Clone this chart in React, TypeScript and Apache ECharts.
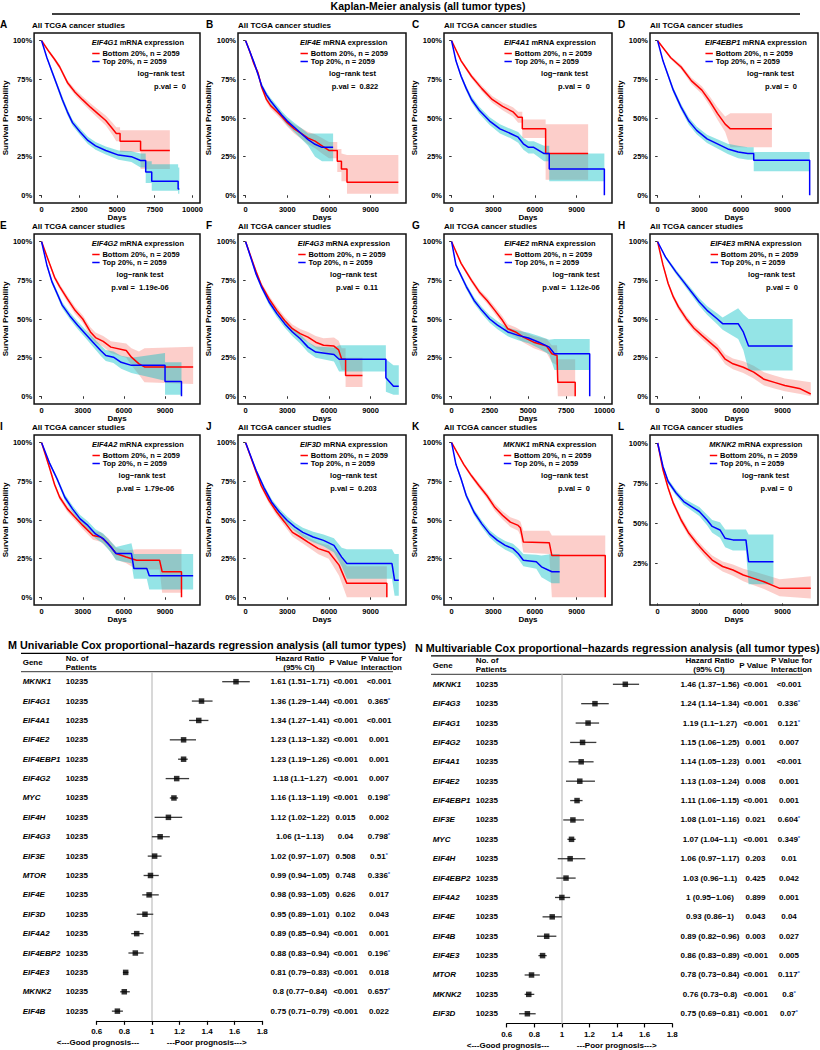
import React, { useEffect, useRef } from "react";
import * as echarts from "echarts";

const FONT = '"Liberation Sans", Arial, Helvetica, sans-serif';

// ---------------- Kaplan-Meier panels ----------------
const panelLetters = ["A", "B", "C", "D", "E", "F", "G", "H", "I", "J", "K", "L"];
const panelGenes = ["EIF4G1", "EIF4E", "EIF4A1", "EIF4EBP1", "EIF4G2", "EIF4G3", "EIF4E2", "EIF4E3", "EIF4A2", "EIF3D", "MKNK1", "MKNK2"];
const panelPvals = ["0", "0.822", "0", "0", "1.19e-06", "0.11", "1.12e-06", "0", "1.79e-06", "0.203", "0", "0"];
const panelMaxDays = [10000, 11000, 11000, 11000, 11000, 11000, 10000, 11000, 11000, 11000, 11000, 11000];
const dayTicks2500 = [0, 2500, 5000, 7500, 10000];
const dayTicks3000 = [0, 3000, 6000, 9000];
const panelDayTicks = [dayTicks2500, dayTicks3000, dayTicks3000, dayTicks3000, dayTicks3000, dayTicks3000, dayTicks2500, dayTicks3000, dayTicks3000, dayTicks3000, dayTicks3000, dayTicks3000];
const survTicks = [0, 0.25, 0.5, 0.75, 1];
const survTicksNoZero = [0.25, 0.5, 0.75, 1];
const legendLabels = ["Bottom 20%, n = 2059", "Top 20%, n = 2059"];

// each point: [days, survival, lower CI, upper CI]
const bottomA = [[0,1,1,1],[518,.925,.915,.935],[858,.88,.868,.892],[1200,.83,.816,.844],[1707,.73,.714,.746],[2216,.667,.648,.686],[2725,.617,.595,.639],[3235,.57,.545,.595],[3744,.527,.499,.555],[4253,.484,.452,.516],[4700,.43,.39,.47],[4950,.40,.35,.44],[5200,.40,.35,.44],[5200,.35,.28,.42],[6560,.35,.28,.42],[6560,.29,.17,.42],[8500,.29,.17,.42]];
const topA = [[0,1,1,1],[350,.89,.88,.90],[690,.80,.785,.815],[1030,.71,.693,.727],[1370,.62,.60,.64],[1707,.54,.52,.56],[2046,.47,.45,.49],[2555,.41,.388,.432],[3065,.355,.331,.379],[3574,.32,.295,.345],[4253,.29,.264,.316],[5100,.26,.23,.29],[5950,.25,.215,.285],[6560,.225,.18,.27],[6900,.225,.18,.27],[6900,.15,.08,.22],[7300,.15,.08,.22],[7300,.09,.03,.20],[9050,.09,.03,.20],[9050,.04,.01,.18],[9130,.04,.01,.18]];
const bottomB = [[0,1,1,1],[300,.93,.92,.94],[600,.85,.838,.862],[900,.79,.776,.804],[1150,.70,.684,.716],[1500,.62,.602,.638],[1800,.58,.56,.60],[2200,.545,.524,.566],[2600,.51,.487,.533],[3000,.47,.445,.495],[3500,.43,.40,.46],[4000,.40,.365,.435],[4500,.37,.33,.41],[5000,.35,.305,.395],[5500,.32,.27,.37],[6000,.29,.24,.345],[6600,.29,.24,.345],[6600,.22,.15,.30],[6900,.22,.15,.30],[6900,.17,.09,.27],[7300,.17,.09,.26],[7300,.085,.01,.26],[11000,.085,.01,.26]];
const topB = [[0,1,1,1],[300,.93,.92,.94],[600,.86,.848,.872],[900,.78,.765,.795],[1150,.71,.694,.726],[1500,.65,.632,.668],[1800,.61,.59,.63],[2200,.565,.543,.587],[2600,.52,.496,.544],[3000,.48,.453,.507],[3500,.44,.41,.47],[4000,.40,.365,.435],[4500,.36,.32,.40],[5000,.33,.25,.40],[5500,.31,.22,.40],[6300,.31,.22,.40]];
const bottomC = [[0,1,1,1],[682,.87,.86,.88],[1430,.77,.755,.785],[2176,.69,.672,.708],[2920,.62,.598,.642],[3670,.575,.55,.60],[4417,.54,.51,.57],[4790,.505,.47,.54],[5090,.505,.47,.54],[5090,.43,.37,.49],[6770,.43,.37,.49],[6770,.27,.10,.46],[9830,.27,.10,.46]];
const topC = [[0,1,1,1],[310,.87,.86,.88],[682,.77,.755,.785],[1056,.69,.673,.707],[1430,.62,.60,.64],[1990,.55,.528,.572],[2740,.48,.455,.505],[3480,.43,.40,.46],[4230,.40,.37,.43],[4790,.376,.34,.41],[5165,.333,.295,.37],[5540,.31,.27,.35],[5910,.31,.27,.35],[6660,.27,.22,.32],[7030,.27,.22,.32],[7030,.17,.09,.27],[11000,.17,.09,.27],[11000,0,.09,.27]];
const bottomD = [[0,1,1,1],[944,.89,.88,.90],[1690,.83,.815,.845],[2440,.74,.72,.76],[3185,.68,.655,.705],[3745,.61,.58,.64],[4305,.53,.49,.57],[4865,.46,.41,.51],[5240,.43,.31,.53],[8230,.43,.31,.53]];
const topD = [[0,1,1,1],[384,.87,.86,.88],[757,.775,.76,.79],[1130,.68,.662,.698],[1690,.57,.55,.59],[2250,.48,.457,.503],[2810,.42,.395,.445],[3560,.365,.338,.392],[4305,.333,.303,.363],[5050,.30,.267,.333],[5800,.28,.24,.32],[6500,.27,.23,.31],[6920,.27,.23,.31],[6920,.226,.155,.28],[10950,.226,.155,.28],[10950,0,.155,.28]];
const bottomE = [[0,1,1,1],[570,.86,.85,.87],[944,.77,.755,.785],[1317,.71,.693,.727],[1880,.63,.61,.65],[2440,.556,.533,.579],[3000,.50,.475,.525],[3560,.416,.385,.447],[3930,.38,.347,.413],[4490,.355,.32,.39],[5050,.318,.28,.356],[6170,.296,.25,.342],[6550,.253,.20,.31],[7100,.21,.14,.29],[7500,.19,.09,.31],[11050,.19,.08,.32]];
const topE = [[0,1,1,1],[380,.85,.84,.86],[757,.74,.725,.755],[1130,.665,.648,.682],[1500,.59,.57,.61],[2060,.52,.498,.542],[2625,.46,.436,.484],[3185,.405,.378,.432],[3745,.35,.32,.38],[4305,.296,.262,.33],[4680,.264,.228,.30],[5240,.253,.215,.29],[5800,.22,.178,.262],[6550,.20,.15,.25],[9000,.20,.10,.28],[9000,.095,.01,.22],[10200,.095,.01,.22],[10200,0,.01,.22]];
const bottomF = [[0,1,1,1],[757,.805,.792,.818],[1130,.72,.704,.736],[1690,.63,.61,.65],[2250,.556,.533,.579],[2810,.49,.465,.515],[3370,.437,.41,.464],[3930,.405,.375,.435],[4490,.383,.35,.416],[5050,.35,.31,.39],[5610,.33,.285,.375],[6360,.325,.27,.38],[6700,.30,.24,.36],[6920,.24,.17,.31],[7200,.24,.17,.31],[7200,.134,.06,.25],[8415,.134,.06,.25]];
const topF = [[0,1,1,1],[757,.79,.777,.803],[1130,.71,.694,.726],[1690,.61,.59,.63],[2250,.535,.512,.558],[2810,.47,.445,.495],[3370,.416,.388,.444],[3930,.372,.342,.402],[4490,.318,.285,.351],[5050,.286,.25,.322],[6360,.27,.225,.315],[6730,.24,.16,.33],[10100,.24,.16,.33],[10100,.12,.03,.24],[10650,.065,.01,.20],[11030,.065,.01,.20]];
const bottomG = [[0,1,1,1],[620,.86,.85,.87],[960,.805,.792,.818],[1300,.75,.735,.765],[1810,.675,.657,.693],[2320,.62,.60,.64],[2830,.556,.533,.579],[3336,.49,.464,.516],[3676,.437,.408,.466],[4185,.416,.385,.447],[4694,.383,.348,.418],[5373,.35,.31,.39],[6220,.325,.28,.37],[6560,.275,.22,.33],[6900,.264,.20,.33],[6950,.09,0,.24],[8090,.09,0,.24],[8090,0,0,.24]];
const topG = [[0,1,1,1],[280,.85,.84,.86],[620,.78,.765,.795],[960,.71,.693,.727],[1470,.62,.60,.64],[1980,.556,.534,.578],[2490,.50,.476,.524],[3000,.46,.434,.486],[3676,.416,.388,.444],[4355,.394,.363,.425],[5034,.377,.343,.411],[5710,.35,.31,.39],[6390,.318,.27,.366],[6730,.275,.17,.37],[9040,.275,.17,.37],[9040,0,.17,.37]];
const bottomH = [[0,1,1,1],[384,.85,.84,.86],[757,.73,.715,.745],[1130,.643,.626,.66],[1500,.578,.559,.597],[2060,.502,.481,.523],[2620,.44,.417,.463],[3185,.394,.369,.419],[3745,.35,.323,.377],[4305,.307,.278,.336],[4865,.24,.208,.272],[5425,.21,.175,.245],[6170,.188,.15,.226],[6920,.156,.115,.197],[7660,.11,.07,.155],[8410,.09,.05,.135],[9160,.07,.033,.115],[10280,.048,.015,.10],[11030,.015,0,.09]];
const topH = [[0,1,1,1],[570,.90,.89,.91],[1317,.805,.79,.82],[1878,.74,.722,.758],[2440,.675,.654,.696],[3000,.61,.585,.635],[3560,.556,.528,.584],[4305,.50,.465,.535],[4680,.47,.43,.51],[5800,.47,.37,.57],[6170,.416,.30,.53],[6550,.325,.167,.50],[9720,.325,.167,.50]];
const bottomI = [[0,1,1,1],[570,.84,.83,.85],[944,.73,.715,.745],[1317,.647,.63,.664],[1880,.572,.552,.592],[2440,.518,.496,.54],[3000,.465,.44,.49],[3745,.40,.372,.428],[4305,.39,.36,.42],[4865,.347,.312,.382],[5425,.283,.245,.321],[6170,.261,.22,.302],[6920,.24,.18,.31],[8600,.24,.18,.31],[8790,.165,.03,.31],[10200,.165,.03,.31],[10200,0,.03,.31]];
const topI = [[0,1,1,1],[570,.87,.86,.88],[1130,.765,.75,.78],[1690,.647,.628,.666],[2250,.572,.55,.594],[2810,.507,.482,.532],[3370,.465,.438,.492],[3930,.41,.38,.44],[4490,.38,.348,.412],[5050,.325,.29,.36],[5425,.283,.24,.326],[6550,.283,.22,.35],[6730,.186,.12,.28],[7670,.186,.12,.28],[7850,.14,.05,.28],[11050,.14,.05,.28]];
const bottomJ = [[0,1,1,1],[757,.81,.797,.823],[1130,.72,.704,.736],[1690,.625,.605,.645],[2250,.55,.527,.573],[2810,.486,.461,.511],[3370,.42,.393,.447],[3930,.39,.36,.42],[4490,.357,.325,.389],[5240,.315,.278,.352],[5985,.293,.25,.336],[6730,.208,.14,.28],[7290,.09,0,.20],[10170,.09,0,.20],[10170,0,0,.20]];
const topJ = [[0,1,1,1],[757,.82,.807,.833],[1317,.71,.693,.727],[1880,.615,.595,.635],[2440,.55,.527,.573],[3000,.497,.472,.522],[3560,.454,.427,.481],[4120,.42,.39,.45],[4865,.39,.356,.424],[5610,.368,.33,.406],[6360,.336,.29,.382],[6920,.26,.20,.32],[7290,.218,.12,.31],[10540,.218,.12,.31],[10730,.11,.01,.28],[11030,.11,.01,.28]];
const bottomK = [[0,1,1,1],[870,.86,.85,.87],[1430,.786,.772,.80],[1990,.72,.703,.737],[2550,.657,.637,.677],[3110,.582,.558,.606],[3670,.53,.503,.557],[4230,.486,.455,.517],[4790,.465,.43,.50],[4950,.45,.40,.49],[5165,.357,.29,.43],[7030,.353,.28,.43],[7220,.27,0,.40],[11065,.27,0,.40],[11065,0,0,.40]];
const topK = [[0,1,1,1],[310,.86,.85,.87],[682,.765,.75,.78],[1056,.657,.64,.674],[1616,.55,.53,.57],[2176,.475,.453,.497],[2740,.41,.386,.434],[3300,.368,.342,.394],[3860,.336,.308,.364],[4417,.315,.284,.346],[4790,.283,.249,.317],[5165,.24,.20,.28],[6100,.23,.185,.275],[6470,.197,.13,.27],[7220,.165,.09,.28],[7780,.165,.09,.28]];
const bottomL = [[0,1,1,1],[384,.833,.823,.843],[757,.72,.706,.734],[1130,.625,.608,.642],[1690,.52,.50,.54],[2250,.437,.415,.459],[2810,.375,.351,.399],[3370,.32,.294,.346],[3930,.27,.242,.298],[4680,.23,.199,.261],[5425,.208,.173,.243],[6170,.177,.138,.216],[6920,.156,.113,.199],[7660,.135,.09,.18],[8790,.094,.045,.15],[11030,.094,.03,.17]];
const topL = [[0,1,1,1],[384,.854,.843,.865],[757,.76,.744,.776],[1317,.69,.672,.708],[1878,.635,.614,.656],[2440,.604,.58,.628],[3000,.573,.545,.601],[3560,.52,.487,.553],[3930,.48,.44,.52],[4490,.458,.41,.506],[4865,.406,.35,.46],[5425,.396,.33,.46],[6360,.396,.33,.46],[6550,.26,.12,.43],[8340,.26,.12,.43]];

const panelCurves = [
  [bottomA, topA], [bottomB, topB], [bottomC, topC], [bottomD, topD],
  [bottomE, topE], [bottomF, topF], [bottomG, topG], [bottomH, topH],
  [bottomI, topI], [bottomJ, topJ], [bottomK, topK], [bottomL, topL],
];

// ---------------- Forest plots ----------------
const uniGenes = ["MKNK1", "EIF4G1", "EIF4A1", "EIF4E2", "EIF4EBP1", "EIF4G2", "MYC", "EIF4H", "EIF4G3", "EIF3E", "MTOR", "EIF4E", "EIF3D", "EIF4A2", "EIF4EBP2", "EIF4E3", "MKNK2", "EIF4B"];
const uniPatients = [10235, 10235, 10235, 10235, 10235, 10235, 10235, 10235, 10235, 10235, 10235, 10235, 10235, 10235, 10235, 10235, 10235, 10235];
const uniHR = [1.61, 1.36, 1.34, 1.23, 1.23, 1.18, 1.16, 1.12, 1.06, 1.02, 0.99, 0.98, 0.95, 0.89, 0.88, 0.81, 0.8, 0.75];
const uniLow = [1.51, 1.29, 1.27, 1.13, 1.19, 1.1, 1.13, 1.02, 1, 0.97, 0.94, 0.93, 0.89, 0.85, 0.83, 0.79, 0.77, 0.71];
const uniHigh = [1.71, 1.44, 1.41, 1.32, 1.26, 1.27, 1.19, 1.22, 1.13, 1.07, 1.05, 1.05, 1.01, 0.94, 0.94, 0.83, 0.84, 0.79];
const uniP = ["<0.001", "<0.001", "<0.001", "<0.001", "<0.001", "<0.001", "<0.001", "0.015", "0.04", "0.508", "0.748", "0.626", "0.102", "<0.001", "<0.001", "<0.001", "<0.001", "<0.001"];
const uniPInt = ["<0.001", "0.365*", "<0.001", "0.001", "0.001", "0.007", "0.198*", "0.002", "0.798*", "0.51*", "0.336*", "0.017", "0.043", "0.001", "0.196*", "0.018", "0.657*", "0.022"];

const multiGenes = ["MKNK1", "EIF4G3", "EIF4G1", "EIF4G2", "EIF4A1", "EIF4E2", "EIF4EBP1", "EIF3E", "MYC", "EIF4H", "EIF4EBP2", "EIF4A2", "EIF4E", "EIF4B", "EIF4E3", "MTOR", "MKNK2", "EIF3D"];
const multiPatients = [10235, 10235, 10235, 10235, 10235, 10235, 10235, 10235, 10235, 10235, 10235, 10235, 10235, 10235, 10235, 10235, 10235, 10235];
const multiHR = [1.46, 1.24, 1.19, 1.15, 1.14, 1.13, 1.11, 1.08, 1.07, 1.06, 1.03, 1, 0.93, 0.89, 0.86, 0.78, 0.76, 0.75];
const multiLow = [1.37, 1.14, 1.1, 1.06, 1.05, 1.03, 1.06, 1.01, 1.04, 0.97, 0.96, 0.95, 0.86, 0.82, 0.83, 0.73, 0.73, 0.69];
const multiHigh = [1.56, 1.34, 1.27, 1.25, 1.23, 1.24, 1.15, 1.16, 1.1, 1.17, 1.1, 1.06, 1, 0.96, 0.89, 0.84, 0.8, 0.81];
const multiP = ["<0.001", "<0.001", "<0.001", "0.001", "0.001", "0.008", "<0.001", "0.021", "<0.001", "0.203", "0.425", "0.899", "0.043", "0.003", "<0.001", "<0.001", "<0.001", "<0.001"];
const multiPInt = ["<0.001", "0.336*", "0.121*", "0.007", "<0.001", "0.001", "0.001", "0.604*", "0.349*", "0.01", "0.042", "0.001", "0.04", "0.027", "0.005", "0.117*", "0.8*", "0.07*"];

const forestTicks = { min: 0.6, max: 1.8, interval: 0.2 };

// ---------------- helpers ----------------
let measureCtx: CanvasRenderingContext2D | null = null;
function textWidth(t: string, font: string): number {
  if (!measureCtx) {
    const c = document.createElement("canvas");
    measureCtx = c.getContext("2d");
  }
  if (!measureCtx) return t.length * 4.5;
  measureCtx.font = font;
  return measureCtx.measureText(t).width;
}

function txt(x: number, y: number, text: string, opts: any = {}) {
  return {
    type: "text",
    x,
    y,
    silent: true,
    style: {
      text,
      fill: "#000",
      fontFamily: FONT,
      fontSize: opts.size || 8,
      fontWeight: opts.weight || "bold",
      fontStyle: opts.style || "normal",
      textAlign: opts.align || "left",
      textVerticalAlign: "middle",
      rich: opts.rich,
    },
  };
}

function hline(x1: number, x2: number, y: number, w: number, color = "#000") {
  return { type: "line", silent: true, shape: { x1, y1: y, x2, y2: y }, style: { stroke: color, lineWidth: w } };
}

function buildOption() {
  const grid: any[] = [];
  const xAxis: any[] = [];
  const yAxis: any[] = [];
  const series: any[] = [];
  const graphic: any[] = [];

  const boxW = 168;
  const boxH = 170;
  const logRankX = [129, 114.5, 120.5, 120.5, 108, 115.5, 132, 121.5, 110, 115.5, 120.5, 115.5];
  const pValX = [138, 117, 130, 131, 108, 119, 127, 132, 113.5, 115.5, 130, 126.5];

  // Top title
  graphic.push(txt(428, 5.5, "Kaplan-Meier analysis (all tumor types)", { size: 10.5, weight: "bold", align: "center" }));
  graphic.push(hline(52, 800, 14, 1.4));

  const lineColors = ["#FF0000", "#0000FF"];
  const bandColors = ["rgba(248,118,109,0.36)", "rgba(0,191,196,0.42)"];

  for (let i = 0; i < 12; i++) {
    const c = i % 4;
    const r = Math.floor(i / 4);
    const bx = 32 + 206 * c;
    const by = 33 + 201 * r;
    const M = panelMaxDays[i];
    const isL = i === 11;
    grid.push({
      left: bx, top: by, width: boxW, height: boxH,
      show: true, borderColor: "#111", borderWidth: 1.5, backgroundColor: "transparent",
    });
    xAxis.push({
      gridIndex: i, type: "value", min: -0.05 * M, max: 1.05 * M,
      axisLine: { show: false },
      axisTick: { show: true, length: 2.5, customValues: panelDayTicks[i], lineStyle: { color: "#333", width: 1 } },
      axisLabel: { customValues: panelDayTicks[i], formatter: (v: number) => String(v), fontSize: 7.5, fontWeight: "bold", color: "#000", fontFamily: FONT, margin: 2 },
      splitLine: { show: false },
      name: "Days", nameLocation: "middle", nameGap: 9,
      nameTextStyle: { fontSize: 8, fontWeight: "bold", color: "#000", fontFamily: FONT },
    });
    const yt = isL ? survTicksNoZero : survTicks;
    yAxis.push({
      gridIndex: i, type: "value", min: isL ? -0.01 : -0.05, max: 1.05,
      axisLine: { show: false },
      axisTick: { show: true, length: 2.5, customValues: yt, lineStyle: { color: "#333", width: 1 } },
      axisLabel: { customValues: yt, formatter: (v: number) => Math.round(v * 100) + "%", fontSize: 7.5, fontWeight: "bold", color: "#000", fontFamily: FONT, margin: 2 },
      splitLine: { show: false },
      name: "Survival Probability", nameLocation: "middle", nameGap: 23, nameRotate: 90,
      nameTextStyle: { fontSize: 8, fontWeight: "bold", color: "#000", fontFamily: FONT },
    });

    const curves = panelCurves[i];
    for (let k = 0; k < 2; k++) {
      const curve = curves[k];
      const fill = bandColors[k];
      series.push({
        type: "custom", xAxisIndex: i, yAxisIndex: i, clip: true, silent: true, z: 1,
        data: curve.map((p) => [p[0], p[2], p[3]]),
        encode: { x: 0, y: [1, 2] },
        renderItem: (params: any, api: any) => {
          if (params.dataIndex !== 0) return null;
          const up = curve.map((p) => api.coord([p[0], p[3]]));
          const dn = curve.map((p) => api.coord([p[0], p[2]])).reverse();
          return { type: "polygon", shape: { points: up.concat(dn) }, style: { fill } };
        },
      });
    }
    for (let k = 0; k < 2; k++) {
      const curve = curves[k];
      series.push({
        type: "line", xAxisIndex: i, yAxisIndex: i, z: 3, silent: true,
        data: curve.map((p) => [p[0], p[1]]),
        symbol: "none", showSymbol: false, clip: true,
        lineStyle: { color: lineColors[k], width: 1.5 },
      });
    }

    // panel letter and subtitle
    graphic.push(txt(bx - 32, by - 9, panelLetters[i], { size: 10 }));
    graphic.push(txt(bx, by - 7.5, "All TCGA cancer studies", { size: 8 }));

    // in-plot legend
    const gene = panelGenes[i];
    const fs = 7.5;
    const titleW = textWidth(gene, `italic bold ${fs}px ${FONT}`) + textWidth(" mRNA expression", `bold ${fs}px ${FONT}`);
    const itemW = 10.7 + textWidth(legendLabels[0], `bold ${fs}px ${FONT}`);
    const cx = bx + 106;
    const blockW = Math.max(titleW, itemW);
    const L = cx - blockW / 2;
    graphic.push(txt(L, by + 9.5, `{g|${gene}} mRNA expression`, {
      size: fs,
      rich: { g: { fontStyle: "italic", fontWeight: "bold", fontSize: fs, fontFamily: FONT, fill: "#000" } },
    }));
    const ys = [by + 20.5, by + 28.5];
    for (let k = 0; k < 2; k++) {
      graphic.push({ type: "line", silent: true, shape: { x1: L + 0.5, y1: ys[k], x2: L + 7.9, y2: ys[k] }, style: { stroke: lineColors[k], lineWidth: 1.5 } });
      graphic.push(txt(L + 10.7, ys[k], legendLabels[k], { size: fs }));
    }
    graphic.push(txt(bx + logRankX[i], by + 40.5, "log\u2212rank test", { size: fs, align: "center" }));
    graphic.push(txt(bx + pValX[i], by + 53, "p.val =  " + panelPvals[i], { size: fs, align: "center" }));
  }

  // forest plots
  const forests = [
    { genes: uniGenes, pts: uniPatients, hr: uniHR, lo: uniLow, hi: uniHigh, p: uniP, pint: uniPInt, ox: 0, oy: 0, letter: "M", title: "Univariable Cox proportional\u2212hazards regression analysis (all tumor types)", titleX: 8 },
    { genes: multiGenes, pts: multiPatients, hr: multiHR, lo: multiLow, hi: multiHigh, p: multiP, pint: multiPInt, ox: 410, oy: 2.6, letter: "N", title: "Multivariable Cox proportional\u2212hazards regression analysis (all tumor types)", titleX: 415 },
  ];
  forests.forEach((f, fi) => {
    const gi = 12 + fi;
    const gLeft = 96.7 + f.ox;
    const gW = 165.5;
    const gTop = 672 + f.oy;
    const rowH = 19.38;
    const gH = rowH * f.genes.length;
    grid.push({ left: gLeft, top: gTop, width: gW, height: gH, show: false });
    xAxis.push({
      gridIndex: gi, type: "value", min: forestTicks.min, max: forestTicks.max, interval: forestTicks.interval,
      axisLine: { show: true, lineStyle: { color: "#000", width: 1.2 } },
      axisTick: { show: true, length: 4, lineStyle: { color: "#000", width: 1.2 } },
      axisLabel: { fontSize: 8, fontWeight: "bold", color: "#000", fontFamily: FONT, margin: 7 },
      splitLine: { show: false },
    });
    const base = yAxis.length;
    const gridRight = gLeft + gW;
    const colDefs = [
      { pos: "left", x: 22.7 + f.ox, align: "left", fmt: (v: string, idx: number) => f.genes[idx], italic: true },
      { pos: "left", x: 65.7 + f.ox, align: "left", fmt: (v: string, idx: number) => String(f.pts[idx]), italic: false },
      { pos: "right", x: 300 + f.ox, align: "center", fmt: (v: string, idx: number) => `${f.hr[idx]} (${f.lo[idx]}\u2212${f.hi[idx]})`, italic: false },
      { pos: "right", x: 345.5 + f.ox, align: "center", fmt: (v: string, idx: number) => f.p[idx], italic: false },
      { pos: "right", x: 379 + f.ox, align: "center", fmt: (v: string, idx: number) => {
          const s = f.pint[idx];
          return s.endsWith("*") ? s.slice(0, -1) + "{s|*}" : s;
        }, italic: false },
    ];
    colDefs.forEach((cd) => {
      const offset = cd.pos === "left" ? gLeft - cd.x : cd.x - gridRight;
      yAxis.push({
        gridIndex: gi, type: "category", inverse: true, data: f.genes, position: cd.pos, offset,
        axisLine: { show: false }, axisTick: { show: false }, splitLine: { show: false },
        axisLabel: {
          interval: 0, margin: 0, align: cd.align, formatter: cd.fmt,
          fontSize: 8, fontWeight: "bold", fontStyle: cd.italic ? "italic" : "normal", color: "#000", fontFamily: FONT,
          rich: { s: { color: "#2b63d9", fontSize: 6, fontWeight: "bold", verticalAlign: "top", padding: [0, 0, 3, 0] } },
        },
      });
    });
    // CI whiskers
    series.push({
      type: "custom", xAxisIndex: gi, yAxisIndex: base, silent: true, z: 4,
      data: f.genes.map((g, idx) => [f.lo[idx], f.hi[idx], idx]),
      encode: { x: [0, 1], y: 2 },
      renderItem: (params: any, api: any) => {
        const a = api.coord([api.value(0), api.value(2)]);
        const b = api.coord([api.value(1), api.value(2)]);
        return { type: "line", shape: { x1: a[0], y1: a[1], x2: b[0], y2: b[1] }, style: { stroke: "#3a3a3a", lineWidth: 1.3 } };
      },
    });
    series.push({
      type: "scatter", xAxisIndex: gi, yAxisIndex: base, silent: true, z: 5,
      symbol: "rect", symbolSize: 5.5,
      itemStyle: { color: "#000" },
      data: f.genes.map((g, idx) => [f.hr[idx], idx]),
      markLine: {
        silent: true, symbol: "none", label: { show: false }, z: 1,
        lineStyle: { color: "#cfcfcf", width: 1.6, type: "solid" },
        data: [{ xAxis: 1 }],
      },
    });

    // header and title
    graphic.push(txt(f.titleX, 645 + f.oy, `${f.letter} ${f.title}`, { size: 10.8 }));
    graphic.push(hline(21 + f.ox, 393 + f.ox, 653.3 + f.oy, 1.3));
    graphic.push(hline(21 + f.ox, 393 + f.ox, 671.7 + f.oy, 0.8));
    graphic.push(txt(22.7 + f.ox, 662.7 + f.oy, "Gene", { size: 8 }));
    graphic.push(txt(65.7 + f.ox, 658.3 + f.oy, "No. of", { size: 8 }));
    graphic.push(txt(65.7 + f.ox, 667 + f.oy, "Patients", { size: 8 }));
    graphic.push(txt(300 + f.ox, 658.3 + f.oy, "Hazard Ratio", { size: 8, align: "center" }));
    graphic.push(txt(299 + f.ox, 667 + f.oy, "(95% CI)", { size: 8, align: "center" }));
    graphic.push(txt(343.5 + f.ox, 662.7 + f.oy, "P Value", { size: 8, align: "center" }));
    graphic.push(txt(381.5 + f.ox, 658.3 + f.oy, "P Value for", { size: 8, align: "center" }));
    graphic.push(txt(381.5 + f.ox, 667 + f.oy, "Interaction", { size: 8, align: "center" }));
    graphic.push(txt(98 + f.ox, 1042.7 + f.oy, "<---Good prognosis---", { size: 8, align: "center" }));
    graphic.push(txt(206.7 + f.ox, 1042.7 + f.oy, "---Poor prognosis--->", { size: 8, align: "center" }));
  });

  return {
    animation: false,
    backgroundColor: "#fff",
    textStyle: { fontFamily: FONT },
    grid, xAxis, yAxis, series, graphic,
  };
}

export default function App() {
  const ref = useRef<HTMLDivElement>(null);
  useEffect(() => {
    document.body.style.margin = "0";
    if (!ref.current) return;
    const chart = echarts.init(ref.current, undefined, { renderer: "svg" });
    chart.setOption(buildOption() as any);
    return () => chart.dispose();
  }, []);
  return <div ref={ref} style={{ position: "absolute", left: 0, top: 0, width: 820, height: 1050 }} />;
}
